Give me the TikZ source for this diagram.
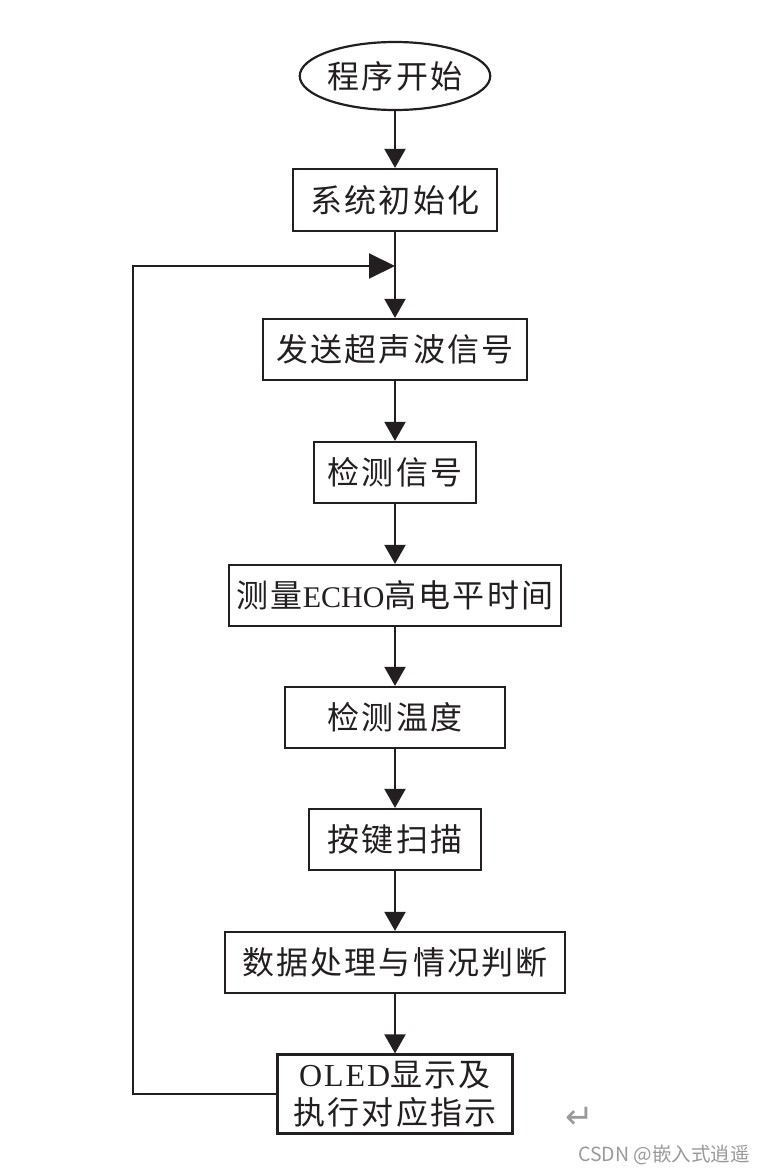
\documentclass[tikz,border=0pt]{standalone}
\usepackage{fontspec}
\setmainfont{Liberation Serif}
\newfontfamily\cjk[LetterSpace=7]{Noto Sans CJK SC}
\newfontfamily\latsp[LetterSpace=6]{Liberation Serif}
\newfontfamily\latn{Liberation Serif}
\newfontfamily\wmfont{Noto Sans CJK SC}
\newfontfamily\djfont{DejaVu Sans}
\usetikzlibrary{arrows.meta,shapes.geometric}
\definecolor{ink}{HTML}{231F20}
\definecolor{wmgray}{HTML}{9A9A9A}
\tikzset{
  box/.style={draw=ink, line width=2.2pt, inner sep=0pt, text=ink, align=center,
    font=\cjk\fontsize{32}{38}\selectfont},
  flow/.style={draw=ink, line width=2pt, -{Triangle[width=21pt,length=19pt]}},
  loopflow/.style={draw=ink, line width=2pt, -{Triangle[width=25pt,length=26pt]}},
}
\begin{document}
\begin{tikzpicture}[x=1pt,y=-1pt]
\useasboundingbox (0,0) rectangle (765,1175);
\fill[white] (0,0) rectangle (765,1175);

\node[box, ellipse, minimum width=186pt, minimum height=68pt] (start) at (395,76) {程序开始};
\node[box, minimum width=204pt, minimum height=62pt] (init) at (395,200) {系统初始化};
\node[box, minimum width=264pt, minimum height=61pt] (send) at (395,349.5) {发送超声波信号};
\node[box, minimum width=162pt, minimum height=61pt] (det) at (395,472.5) {检测信号};
\node[box, minimum width=332pt, minimum height=61pt] (echo) at (395,595.5) {测量{\latn\fontsize{30}{38}\selectfont ECHO}高电平时间};
\node[box, minimum width=220pt, minimum height=61pt] (temp) at (395,717.5) {检测温度};
\node[box, minimum width=172pt, minimum height=61pt] (key) at (395,839.5) {按键扫描};
\node[box, minimum width=340pt, minimum height=61pt] (data) at (395,962.5) {数据处理与情况判断};
\node[box, minimum width=235pt, minimum height=79pt] (oled) at (395,1094) {{\latsp OLED}显示及\\执行对应指示};

\coordinate (join) at (395,266);
\coordinate (lc) at (133,266);

\draw[flow] (start) -- (init);
\draw[flow] (init) -- (send);
\draw[flow] (send) -- (det);
\draw[flow] (det) -- (echo);
\draw[flow] (echo) -- (temp);
\draw[flow] (temp) -- (key);
\draw[flow] (key) -- (data);
\draw[flow] (data) -- (oled);
\draw[loopflow] (oled.west) -| (lc) -- (join);

\node[text=wmgray, font=\djfont\fontsize{34}{34}\selectfont, inner sep=0pt] (ret) at (580,1118) {↵};
\node[text=wmgray, font=\wmfont\fontsize{19.5}{20}\selectfont, inner sep=0pt, anchor=east] (wm) at (750,1155) {CSDN @嵌入式逍遥};
\end{tikzpicture}
\end{document}
